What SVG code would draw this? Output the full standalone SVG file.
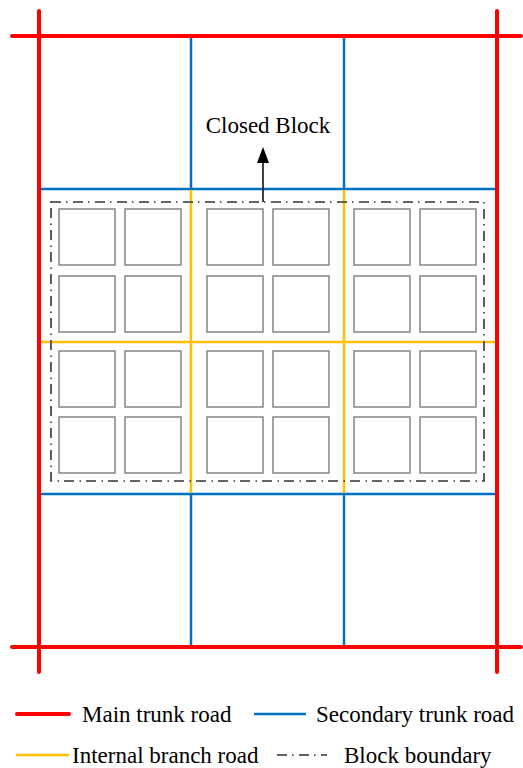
<svg xmlns="http://www.w3.org/2000/svg" width="523" height="768" viewBox="0 0 523 768">
<style>
.main{stroke:#FF0000;stroke-width:4;stroke-linecap:round;fill:none}
.sec{stroke:#0070C0;stroke-width:2.5;fill:none}
.int{stroke:#FFC000;stroke-width:2.5;fill:none}
.bnd{stroke:#333;stroke-width:1.6;fill:none;stroke-dasharray:10 5 1.5 5.5}
.blk{stroke:#8c8c8c;stroke-width:1.6;fill:#fff}
text{font-family:"Liberation Serif","Times New Roman",serif;fill:#000;font-size:23px}
</style>
<rect width="523" height="768" fill="#fff"/>
<g id="connectors">
<g id="secondary-roads">
<line class="sec" x1="191" y1="36" x2="191" y2="189"/>
<line class="sec" x1="344" y1="36" x2="344" y2="189"/>
<line class="sec" x1="191" y1="494" x2="191" y2="647"/>
<line class="sec" x1="344" y1="494" x2="344" y2="647"/>
<line class="sec" x1="39" y1="189" x2="497" y2="189"/>
<line class="sec" x1="39" y1="494" x2="497" y2="494"/>
</g>
<g id="internal-roads">
<line class="int" x1="191" y1="190" x2="191" y2="493"/>
<line class="int" x1="344" y1="190" x2="344" y2="493"/>
<line class="int" x1="38" y1="342" x2="497" y2="342"/>
</g>
<g id="main-roads">
<line class="main" x1="12" y1="36" x2="521" y2="36"/>
<line class="main" x1="12" y1="647" x2="521" y2="647"/>
<line class="main" x1="39" y1="11" x2="39" y2="672"/>
<line class="main" x1="497" y1="11" x2="497" y2="672"/>
</g>
<g id="arrow">
<line x1="263" y1="202" x2="263" y2="160" stroke="#000" stroke-width="1.5"/>
<polygon points="263,147 257,163 269,163" fill="#000"/>
</g>
</g>
<g id="block-boundary">
<rect class="bnd" x="51" y="202" width="433" height="279"/>
</g>
<g id="blocks">
<rect class="blk" x="59" y="209" width="56" height="56"/><rect class="blk" x="125" y="209" width="56" height="56"/><rect class="blk" x="207" y="209" width="56" height="56"/><rect class="blk" x="273" y="209" width="56" height="56"/><rect class="blk" x="354" y="209" width="56" height="56"/><rect class="blk" x="420" y="209" width="56" height="56"/>
<rect class="blk" x="59" y="276" width="56" height="56"/><rect class="blk" x="125" y="276" width="56" height="56"/><rect class="blk" x="207" y="276" width="56" height="56"/><rect class="blk" x="273" y="276" width="56" height="56"/><rect class="blk" x="354" y="276" width="56" height="56"/><rect class="blk" x="420" y="276" width="56" height="56"/>
<rect class="blk" x="59" y="351" width="56" height="56"/><rect class="blk" x="125" y="351" width="56" height="56"/><rect class="blk" x="207" y="351" width="56" height="56"/><rect class="blk" x="273" y="351" width="56" height="56"/><rect class="blk" x="354" y="351" width="56" height="56"/><rect class="blk" x="420" y="351" width="56" height="56"/>
<rect class="blk" x="59" y="417" width="56" height="56"/><rect class="blk" x="125" y="417" width="56" height="56"/><rect class="blk" x="207" y="417" width="56" height="56"/><rect class="blk" x="273" y="417" width="56" height="56"/><rect class="blk" x="354" y="417" width="56" height="56"/><rect class="blk" x="420" y="417" width="56" height="56"/>
</g>
<g id="label-closed-block">
<text x="268" y="133" text-anchor="middle">Closed Block</text>
</g>
<g id="legend">
<line class="main" x1="17" y1="714" x2="69" y2="714"/>
<text x="82" y="722">Main trunk road</text>
<line class="sec" x1="254" y1="714" x2="306" y2="714"/>
<text x="316" y="722">Secondary trunk road</text>
<line class="int" x1="16" y1="755" x2="69" y2="755"/>
<text x="72" y="763">Internal branch road</text>
<line class="bnd" x1="277" y1="755" x2="327" y2="755"/>
<text x="344" y="763">Block boundary</text>
</g>
</svg>
